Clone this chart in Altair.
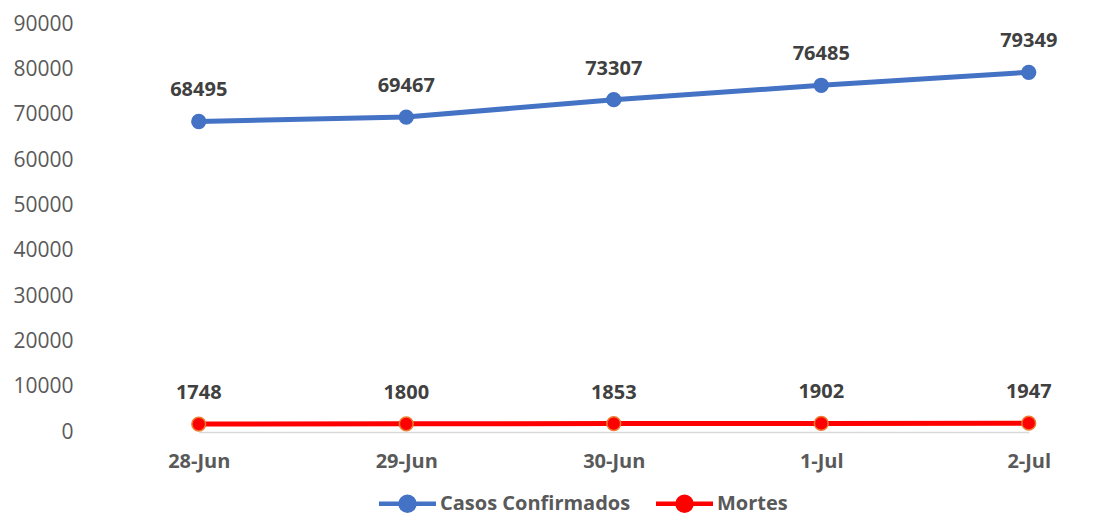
import altair as alt
import pandas as pd

dates = ["28-Jun", "29-Jun", "30-Jun", "1-Jul", "2-Jul"]
casos = [68495, 69467, 73307, 76485, 79349]
mortes = [1748, 1800, 1853, 1902, 1947]
series = ["Casos Confirmados", "Mortes"]

rows = []
for d, c in zip(dates, casos):
    rows.append({"date": d, "value": c, "serie": series[0]})
for d, m in zip(dates, mortes):
    rows.append({"date": d, "value": m, "serie": series[1]})
df = pd.DataFrame(rows)

FONT = "Open Sans"
W, H = 1017, 408
step = 207.5

x = alt.X("date:N", sort=dates, title=None,
          scale=alt.Scale(type="point", padding=0, range=[step / 2, step / 2 + 4 * step]),
          axis=alt.Axis(labelAngle=0, labelFont=FONT, labelFontSize=20, labelFontWeight="bold",
                        labelColor="#595959", ticks=False, domainColor="#D9D9D9",
                        domainWidth=1.5, labelPadding=19))
y = alt.Y("value:Q", title=None,
          scale=alt.Scale(domain=[0, 90000], nice=False),
          axis=alt.Axis(values=list(range(0, 90001, 10000)), format="d", grid=False,
                        domain=False, ticks=False, labelFont=FONT, labelFontSize=21,
                        labelColor="#595959", labelPadding=22))

legend_path = ("M-2.85,0H-0.7M0.7,0H2.85"
               "M0.7,0A0.7,0.7 0 1,1 -0.7,0A0.7,0.7 0 1,1 0.7,0Z")

color = alt.Color("serie:N", sort=series,
                  scale=alt.Scale(domain=series, range=["#4472C4", "#FF0000"]),
                  legend=alt.Legend(title=None, orient="none", direction="horizontal",
                                    legendX=300, legendY=467, padding=0,
                                    symbolType=legend_path, symbolSize=400,
                                    symbolStrokeWidth=4.5, labelFont=FONT,
                                    labelFontSize=20, labelFontWeight="bold",
                                    labelColor="#595959", labelOffset=20, labelLimit=400,
                                    columnPadding=16))

base = alt.Chart(df)
lines = base.mark_line(strokeWidth=5).encode(x=x, y=y, color=color)
points = base.mark_point(filled=True, size=190, opacity=1, strokeWidth=1.5).encode(
    x=x, y=y,
    fill=alt.Fill("serie:N", scale=alt.Scale(domain=series, range=["#4472C4", "#FF0000"]), legend=None),
    stroke=alt.Stroke("serie:N", scale=alt.Scale(domain=series, range=["#4472C4", "#ED7D31"]), legend=None),
)
labels = base.mark_text(dy=-31, font=FONT, fontSize=20, fontWeight="bold", color="#404040").encode(
    x=x, y=y, text=alt.Text("value:Q", format="d"))

chart = (lines + points + labels).properties(
    width=W, height=H,
    autosize=alt.AutoSizeParams(type="none"),
    padding={"left": 87, "top": 16, "right": 0, "bottom": 84},
).configure_view(stroke=None)

chart.save("out.html", embed_options={"renderer": "svg", "actions": False})
